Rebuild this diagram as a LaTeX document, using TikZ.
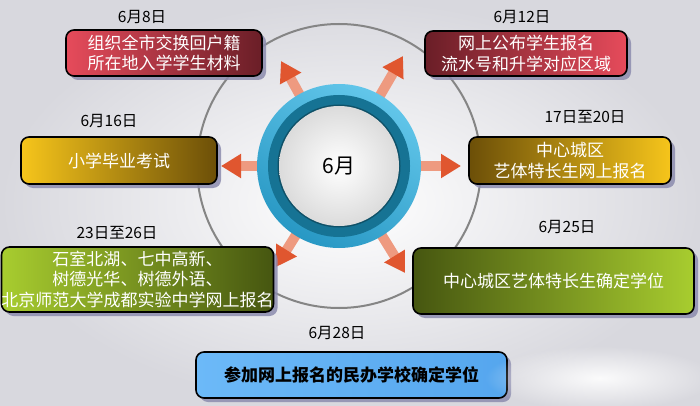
\documentclass[tikz,border=0pt]{standalone}
\usepackage{fontspec}
\setmainfont{Noto Sans CJK SC}
\usetikzlibrary{shadows,calc,arrows.meta,fadings}
\tikzfading[name=softfade, inner color=transparent!0, outer color=transparent!100]
\definecolor{redL}{HTML}{E64B5B}
\definecolor{redD}{HTML}{6A1E27}
\definecolor{yelL}{HTML}{F6C51B}
\definecolor{yelD}{HTML}{6C4F08}
\definecolor{grnL}{HTML}{A8CD2F}
\definecolor{grnD}{HTML}{465610}
\definecolor{bluL}{HTML}{6CB9F8}
\definecolor{bluD}{HTML}{55A6EE}
\definecolor{shadowc}{HTML}{8C8CAE}
\definecolor{arrS}{HTML}{EE9A80}
\definecolor{arrH}{HTML}{E0562F}
\definecolor{ringL}{HTML}{62C6EA}
\definecolor{ringD}{HTML}{2898C4}
\definecolor{ringDark}{HTML}{167394}
\definecolor{bigring}{HTML}{858585}
\definecolor{bgout}{HTML}{D8D8DE}
\begin{document}
\begin{tikzpicture}[x=1pt,y=-1pt,
  box/.style={draw=black, line width=1.6pt, rounded corners=8pt, align=center,
    text=white, font=\fontsize{17}{20.5}\selectfont, inner sep=0pt,
    drop shadow={shadow xshift=4pt, shadow yshift=-4pt, fill=shadowc, opacity=0.85}},
  datelbl/.style={font=\fontsize{15.5}{18}\selectfont, text=black},
  arr/.style={line width=10pt, draw=arrS, -{Triangle[width=23pt,length=20pt,color=arrH]}}]
\useasboundingbox (0,0) rectangle (700,406);
\shade[inner color=white, outer color=bgout] (0,0) rectangle (700,406);
% big gray circle
\coordinate (c) at (339,166);
\draw[bigring, line width=2pt] (c) circle (142);
% arrows
\coordinate (tUL) at (281,61);
\coordinate (tUR) at (403,56);
\coordinate (tL) at (221,166);
\coordinate (tR) at (461,166);
\coordinate (tDL) at (276,267);
\coordinate (tDR) at (405,273);
\foreach \t in {tUL,tUR,tL,tR,tDL,tDR}
  \draw[arr] ($(c)!70pt!(\t)$) -- (\t);
% central circle
\shade[top color=ringL, bottom color=ringD, shading angle=-30] (c) circle (82);
\fill[ringDark] (c) circle (71);
\fill[ringDark!70!black] (c) circle (61.5);
\shade[inner color=white, outer color=black!14] (c) circle (60);
\node[font=\fontsize{21}{24}\selectfont] (m) at (c) {6月};
% boxes
\node[box, left color=redL, right color=redD, minimum width=196pt, minimum height=46pt] (b1) at (164,53) {组织全市交换回户籍\\所在地入学学生材料};
\node[box, left color=redD, right color=redL, minimum width=202pt, minimum height=45pt] (b2) at (526,53.5) {网上公布学生报名\\流水号和升学对应区域};
\node[box, left color=yelL, right color=yelD, minimum width=196pt, minimum height=47pt] (b3) at (119,160.5) {小学毕业考试};
\node[box, left color=yelD, right color=yelL, minimum width=202pt, minimum height=47pt] (b4) at (570,160.5) {中心城区\\艺体特长生网上报名};
\node[box, left color=grnL, right color=grnD, minimum width=271pt, minimum height=65pt] (b5) at (137.5,279.5) {石室北湖、七中高新、\\树德光华、树德外语、\\北京师范大学成都实验中学网上报名};
\node[box, left color=grnD, right color=grnL, minimum width=281pt, minimum height=66pt] (b6) at (553.5,281) {中心城区艺体特长生确定学位};
\node[box, left color=bluL, right color=bluD, text=black, font=\fontsize{17}{20.5}\selectfont\bfseries, minimum width=311pt, minimum height=46pt] (b7) at (351.5,375) {参加网上报名的民办学校确定学位};
% date labels
\node[datelbl] (d1) at (142,17) {6月8日};
\node[datelbl] (d2) at (522,17) {6月12日};
\node[datelbl] (d3) at (109,121) {6月16日};
\node[datelbl] (d4) at (585,117) {17日至20日};
\node[datelbl] (d5) at (117,233) {23日至26日};
\node[datelbl] (d6) at (567,227) {6月25日};
\node[datelbl] (d7) at (337,333) {6月28日};
% faded white smudge at bottom right
\fill[white, opacity=0.9, path fading=softfade] (600,378) ellipse (115 and 32);
\end{tikzpicture}
\end{document}
